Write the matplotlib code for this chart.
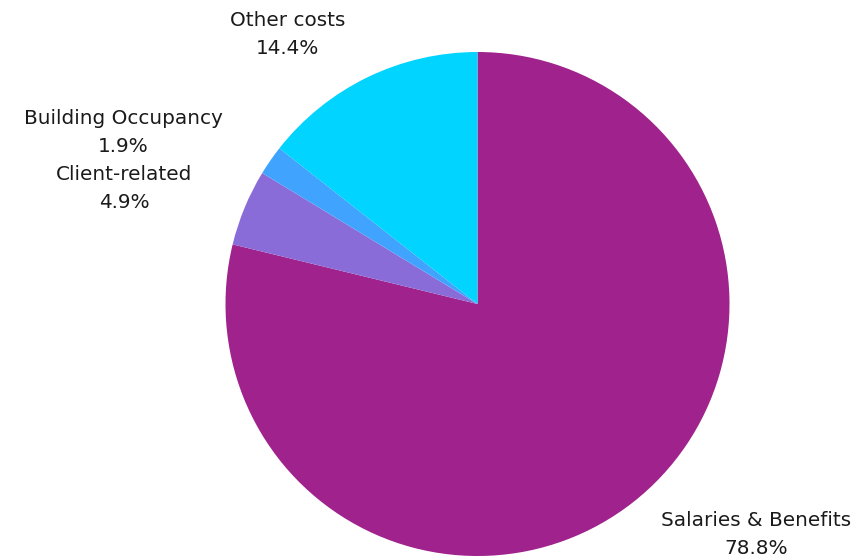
import matplotlib
matplotlib.use("Agg")
import matplotlib.pyplot as plt

categories = ["Salaries & Benefits", "Client-related", "Building Occupancy", "Other costs"]
values = [78.8, 4.9, 1.9, 14.4]
pct_labels = ["78.8%", "4.9%", "1.9%", "14.4%"]
colors = ["#A0228C", "#8A6CD9", "#40A4FF", "#00D4FF"]

W, H = 866, 559
fig = plt.figure(figsize=(W / 100, H / 100), dpi=100)
ax = fig.add_axes([0, 0, 1, 1])
ax.set_xlim(0, W)
ax.set_ylim(0, H)
ax.set_aspect("equal")
ax.axis("off")

cx, cy, r = 477.5, H - 304, 252
ax.pie(values, colors=colors, startangle=90, counterclock=False,
       center=(cx, cy), radius=r, frame=True,
       wedgeprops=dict(linewidth=0))
ax.set_xlim(0, W)
ax.set_ylim(0, H)
ax.axis("off")

# label positions (pixel coords, top-origin) for each category
label_pos = [(756, 521), (124, 174), (123, 119), (288, 20)]
font = dict(family="DejaVu Sans", fontsize=14.4, color="#1a1a1a")
for cat, pct, (lx, ly) in zip(categories, pct_labels, label_pos):
    ax.text(lx, H - ly, cat, ha="center", va="center", **font)
    ax.text(lx, H - ly - 28, pct, ha="center", va="center", **font)

fig.savefig("out.png", dpi=100)
